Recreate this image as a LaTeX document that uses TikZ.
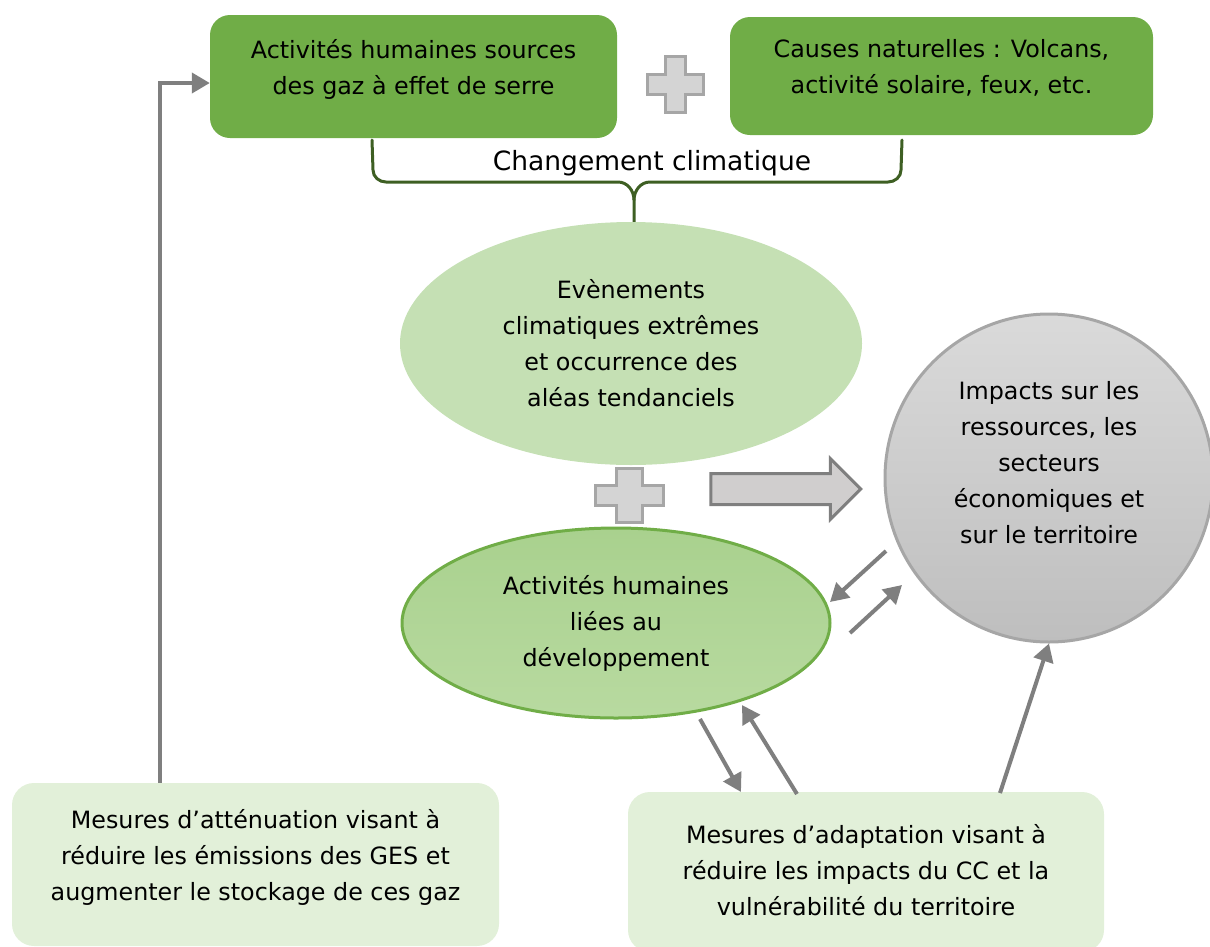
\documentclass[tikz,border=0pt]{standalone}
\usepackage{fontspec}
\setmainfont{DejaVu Sans}
\usetikzlibrary{positioning, shapes, arrows.meta, calc}
\definecolor{mygreen}{RGB}{112,173,71}
\definecolor{mylightgreen}{RGB}{226,240,217}
\definecolor{mypalegreen}{RGB}{197,224,180}
\definecolor{mymidgreen}{RGB}{169,209,142}
\definecolor{mysoftgreen}{RGB}{184,218,160}
\definecolor{mydarkgreen}{RGB}{62,95,35}
\definecolor{mygray}{RGB}{127,127,127}
\definecolor{mylightgray}{RGB}{208,206,206}
\definecolor{myplusgray}{RGB}{166,166,166}
\definecolor{myplusfill}{RGB}{212,212,212}
\definecolor{mytopgray}{RGB}{218,218,218}
\definecolor{mybottomgray}{RGB}{190,190,190}

\begin{document}
\begin{tikzpicture}[
   x=1pt, y=-1pt,
   every node/.style       = {font=\fontsize{23.8}{36}\selectfont, align=center, inner sep=0pt},
         darkBox/.style    = {rectangle, rounded corners=20pt, fill=mygreen, text depth=19pt},
         lightBox/.style   = {rectangle, rounded corners=22pt, fill=mylightgreen, text depth=19pt},
         eventNode/.style  = {ellipse, fill=mypalegreen},
         humanNode/.style  = {ellipse, draw=mygreen, line width=3pt, top color=mymidgreen, bottom color=mysoftgreen},
         impactNode/.style = {circle, draw=myplusgray, line width=3pt, top color=mytopgray, bottom color=mybottomgray},
         bigArrow/.style   = {single arrow, draw=mygray, line width=3pt, fill=mylightgray, inner xsep=0pt, inner ysep=14pt,
                              single arrow head extend=15pt, single arrow tip angle=90},
         plusSign/.style   = {draw=myplusgray, line width=3pt, fill=myplusfill, line join=miter},
         braceLine/.style  = {draw=mydarkgreen, line width=3pt, line cap=round},
         myarrow/.style    = {draw=mygray, line width=4pt, -{Triangle[length=18pt, width=20pt]}}
]

\useasboundingbox (0,0) rectangle (1210,946);

% causes
\node[darkBox, minimum width=407pt, minimum height=123pt] (humaines) at (413.5,76.5)
   {Activités humaines sources\\des gaz à effet de serre};
\node[darkBox, minimum width=423pt, minimum height=118pt] (naturelles) at (941.5,76)
   {Causes naturelles : Volcans,\\activité solaire, feux, etc.};

\draw[plusSign] (675,84) ++(-28,-10) -- ++(18,0) -- ++(0,-18) -- ++(20,0) -- ++(0,18) -- ++(18,0)
   -- ++(0,20) -- ++(-18,0) -- ++(0,18) -- ++(-20,0) -- ++(0,-18) -- ++(-18,0) -- cycle;

% accolade
\coordinate (braceTip) at (634,225);
\draw[braceLine] (372,140) -- (373,170) to[out=-90,in=180] (386,182) -- (618,182)
   to[out=0,in=90] (634,200) -- (braceTip);
\draw[braceLine] (902,140) -- (901,170) to[out=-90,in=0] (888,182) -- (650,182)
   to[out=180,in=90] (634,200);
\node[font=\fontsize{26.5}{36}\selectfont] (changement) at (652,163) {Changement climatique};

% evenements et activites
\node[eventNode, minimum width=462pt, minimum height=243pt] (evenements) at (631,343.5)
   {Evènements\\climatiques extrêmes\\et occurrence des\\aléas tendanciels};

\draw[plusSign] (629,495) ++(-34,-10) -- ++(21,0) -- ++(0,-17) -- ++(26,0) -- ++(0,17) -- ++(21,0)
   -- ++(0,20) -- ++(-21,0) -- ++(0,17) -- ++(-26,0) -- ++(0,-17) -- ++(-21,0) -- cycle;

\node[humanNode, minimum width=428pt, minimum height=190pt] (developpement) at (616,623)
   {Activités humaines\\liées au\\développement};

\node[bigArrow, minimum height=150pt] (bigarrow) at (778,489) {};

\node[impactNode, minimum size=328pt, text depth=31pt] (impacts) at (1049,478)
   {Impacts sur les\\ressources, les\\secteurs\\économiques et\\sur le territoire};

% mesures
\node[lightBox, minimum width=487pt, minimum height=163pt] (attenuation) at (255.5,864.5)
   {Mesures d’atténuation visant à\\réduire les émissions des GES et\\augmenter le stockage de ces gaz};
\node[lightBox, minimum width=476pt, minimum height=160pt, text depth=5pt] (adaptation) at (866,872)
   {Mesures d’adaptation visant à\\réduire les impacts du CC et la\\vulnérabilité du territoire};

% fleches
\coordinate (attStart) at ($(attenuation.north west)+(148,0)$);
\coordinate (humEnd) at ($(humaines.west)+(0,6.5)$);
\draw[myarrow] (attStart) |- (humEnd);

\coordinate (impOut) at (886,551);
\coordinate (devIn) at (830,602);
\coordinate (devOut) at (850,633);
\coordinate (impIn) at (902,585);
\draw[myarrow] (impOut) -- (devIn);
\draw[myarrow] (devOut) -- (impIn);

\coordinate (devDown) at (700,719);
\coordinate (adaIn) at (741,792);
\coordinate (adaOut) at (797,794);
\coordinate (devUp) at (742,705);
\draw[myarrow] (devDown) -- (adaIn);
\draw[myarrow] (adaOut) -- (devUp);

\coordinate (adaTop) at (1000,793);
\draw[myarrow] (adaTop) -- (impacts.south);

\end{tikzpicture}
\end{document}
